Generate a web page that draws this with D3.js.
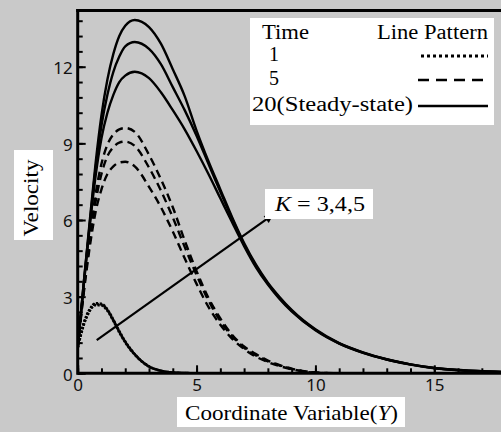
<!DOCTYPE html>
<html>
<head>
<meta charset="utf-8">
<script src="https://cdn.jsdelivr.net/npm/d3@7"></script>
<style>
  body { margin: 0; background: #c9c9c9; }
  svg { display: block; }
</style>
</head>
<body>
<div id="chart"></div>
<script>
// coordinate variable Y where the curves are read
var yGrid = [0, 0.25, 0.5, 0.75, 1, 1.25, 1.5, 1.75, 2, 2.4, 3, 3.5, 4, 4.5, 5, 5.5, 6, 6.5, 7, 7.5, 8, 8.5, 9, 10, 11, 12, 13, 14, 15, 16, 17, 18, 20];

// time = 20 (steady-state), K = 3,4,5
var steadyK3 = [1, 3.4, 5.7, 7.7, 9.2, 10.2, 10.9, 11.4, 11.65, 11.8, 11.55, 11.0, 10.3, 9.55, 8.7, 7.8, 6.85, 5.9, 4.98, 4.15, 3.47, 2.9, 2.42, 1.68, 1.16, 0.8, 0.54, 0.34, 0.2, 0.12, 0.08, 0.05, 0.02];
var steadyK4 = [1, 3.5, 5.8, 8.0, 9.7, 10.9, 11.8, 12.4, 12.8, 12.97, 12.7, 12.1, 11.2, 10.3, 9.3, 8.2, 7.1, 6.05, 5.04, 4.2, 3.51, 2.94, 2.45, 1.7, 1.17, 0.81, 0.54, 0.35, 0.21, 0.13, 0.08, 0.05, 0.02];
var steadyK5 = [1, 3.5, 5.9, 8.2, 10.1, 11.5, 12.5, 13.2, 13.6, 13.83, 13.55, 12.9, 11.9, 10.85, 9.5, 8.3, 7.2, 6.1, 5.1, 4.25, 3.55, 2.98, 2.48, 1.72, 1.18, 0.82, 0.55, 0.35, 0.21, 0.13, 0.08, 0.05, 0.02];

// time = 5
var t5K3 = [1, 3.1, 4.9, 6.3, 7.2, 7.8, 8.1, 8.25, 8.28, 8.1, 7.3, 6.5, 5.55, 4.5, 3.5, 2.6, 1.9, 1.35, 0.95, 0.65, 0.44, 0.28, 0.16, 0.02, 0, 0, 0, 0, 0, 0, 0, 0, 0];
var t5K4 = [1, 3.2, 5.1, 6.7, 7.8, 8.5, 8.85, 9.03, 9.07, 8.9, 8.05, 7.15, 6.1, 4.95, 3.85, 2.85, 2.05, 1.45, 1.0, 0.7, 0.47, 0.3, 0.17, 0.03, 0, 0, 0, 0, 0, 0, 0, 0, 0];
var t5K5 = [1, 3.3, 5.3, 7.0, 8.2, 8.95, 9.35, 9.55, 9.6, 9.45, 8.55, 7.6, 6.5, 5.2, 4.0, 2.95, 2.15, 1.5, 1.05, 0.75, 0.5, 0.32, 0.18, 0.03, 0, 0, 0, 0, 0, 0, 0, 0, 0];

// time = 1
var t1K3 = [1, 1.88, 2.43, 2.67, 2.66, 2.45, 2.05, 1.6, 1.21, 0.73, 0.26, 0.1, 0.03, 0.01, 0, 0, 0, 0, 0, 0, 0, 0, 0, 0, 0, 0, 0, 0, 0, 0, 0, 0, 0];
var t1K4 = [1, 1.92, 2.47, 2.71, 2.69, 2.48, 2.08, 1.63, 1.23, 0.74, 0.27, 0.1, 0.03, 0.01, 0, 0, 0, 0, 0, 0, 0, 0, 0, 0, 0, 0, 0, 0, 0, 0, 0, 0, 0];
var t1K5 = [1, 1.95, 2.5, 2.74, 2.72, 2.5, 2.1, 1.65, 1.25, 0.75, 0.27, 0.1, 0.03, 0.01, 0, 0, 0, 0, 0, 0, 0, 0, 0, 0, 0, 0, 0, 0, 0, 0, 0, 0, 0];

var xMajor = [0, 5, 10, 15];
var yMajor = [0, 3, 6, 9, 12];

var series = [
    { time: 1, pattern: "dot", values: t1K3 },
    { time: 1, pattern: "dot", values: t1K4 },
    { time: 1, pattern: "dot", values: t1K5 },
    { time: 5, pattern: "dash", values: t5K3 },
    { time: 5, pattern: "dash", values: t5K4 },
    { time: 5, pattern: "dash", values: t5K5 },
    { time: 20, pattern: "solid", values: steadyK3 },
    { time: 20, pattern: "solid", values: steadyK4 },
    { time: 20, pattern: "solid", values: steadyK5 }
];

var legendRows = [
    { label: "1", pattern: "dot" },
    { label: "5", pattern: "dash" },
    { label: "20(Steady-state)", pattern: "solid" }
];

var dashFor = { dot: "2.2,1.6", dash: "8,5", solid: null };

var width = 501, height = 432;
var svg = d3.select("#chart").append("svg")
    .attr("width", width)
    .attr("height", height);

svg.append("rect")
    .attr("width", width)
    .attr("height", height)
    .style("fill", "#c9c9c9");

var x = d3.scaleLinear().domain([0, 18]).range([77.7, 505.6]);
var y = d3.scaleLinear().domain([0, 14.2]).range([373.3, 10.5]);

svg.append("clipPath").attr("id", "plotClip")
    .append("rect")
    .attr("x", x(0)).attr("y", y(14.2))
    .attr("width", x(18) - x(0)).attr("height", y(0) - y(14.2));

// curves
var line = d3.line()
    .x(function (d) { return x(d[0]); })
    .y(function (d) { return y(d[1]); })
    .curve(d3.curveMonotoneX);

svg.append("g").attr("clip-path", "url(#plotClip)")
    .selectAll(".curve")
    .data(series)
    .enter().append("path")
    .attr("class", "curve")
    .attr("d", function (s) {
        return line(yGrid.map(function (g, i) { return [g, s.values[i]]; }));
    })
    .style("fill", "none")
    .style("stroke", "#000")
    .style("stroke-width", function (s) { return s.pattern == "dot" ? 2.6 : 2.4; })
    .style("stroke-dasharray", function (s) { return dashFor[s.pattern]; });

// axes, ticks pointing inward
var tickFont = "'Noto Sans', sans-serif";

var yAxis = svg.append("g")
    .attr("transform", "translate(" + x(0) + ",0)")
    .call(d3.axisLeft(y).tickValues(yMajor).tickSize(-8).tickPadding(5).tickFormat(d3.format("d")));
var yMinor = svg.append("g")
    .attr("transform", "translate(" + x(0) + ",0)")
    .call(d3.axisLeft(y).tickValues(d3.range(0, 14.2, 0.6)).tickSize(-5).tickFormat(""));

var xAxis = svg.append("g")
    .attr("transform", "translate(0," + y(0) + ")")
    .call(d3.axisBottom(x).tickValues(xMajor).tickSize(-8).tickPadding(6).tickFormat(d3.format("d")));
var xMinor = svg.append("g")
    .attr("transform", "translate(0," + y(0) + ")")
    .call(d3.axisBottom(x).tickValues(d3.range(0, 18, 1)).tickSize(-5).tickFormat(""));

[yAxis, yMinor, xAxis, xMinor].forEach(function (a) {
    a.select(".domain").remove();
    a.selectAll(".tick line").style("stroke", "#000").style("stroke-width", 2);
    a.selectAll("text")
        .style("font-family", tickFont)
        .style("font-size", "17px")
        .style("fill", "#111");
});
yAxis.selectAll("text").attr("dy", "0.4em");

// frame lines: left, bottom and top
svg.append("line")
    .attr("x1", x(0)).attr("x2", x(0))
    .attr("y1", y(14.2) - 1.5).attr("y2", y(0) + 1.5)
    .style("stroke", "#000").style("stroke-width", 3);
svg.append("line")
    .attr("x1", x(0)).attr("x2", width)
    .attr("y1", y(0)).attr("y2", y(0))
    .style("stroke", "#000").style("stroke-width", 3);
svg.append("line")
    .attr("x1", x(0) - 1.5).attr("x2", width)
    .attr("y1", y(14.2)).attr("y2", y(14.2))
    .style("stroke", "#000").style("stroke-width", 3);

// arrow across the K families
svg.append("defs").append("marker")
    .attr("id", "arrowHead")
    .attr("viewBox", "0 0 10 10")
    .attr("refX", 9).attr("refY", 5)
    .attr("markerWidth", 5).attr("markerHeight", 4)
    .attr("markerUnits", "strokeWidth")
    .attr("orient", "auto")
    .append("path")
    .attr("d", "M0,0 L10,5 L0,10 Z")
    .style("fill", "#000");

svg.append("line")
    .attr("x1", x(0.8)).attr("y1", y(1.3))
    .attr("x2", x(8.2)).attr("y2", y(6.2))
    .style("stroke", "#000")
    .style("stroke-width", 2.2)
    .attr("marker-end", "url(#arrowHead)");

var serif = "'Liberation Serif', 'Times New Roman', serif";

// K label
svg.append("rect")
    .attr("x", 265).attr("y", 189).attr("width", 108).attr("height", 30)
    .style("fill", "#fff");
var kText = svg.append("text")
    .attr("x", 275).attr("y", 211)
    .style("font-family", serif)
    .style("font-size", "21px")
    .attr("textLength", 90)
    .attr("lengthAdjust", "spacingAndGlyphs");
kText.append("tspan").style("font-style", "italic").text("K");
kText.append("tspan").text(" = 3,4,5");

// axis titles in white boxes
svg.append("rect")
    .attr("x", 177).attr("y", 397).attr("width", 228).attr("height", 30)
    .style("fill", "#fff");
var xTitle = svg.append("text")
    .attr("x", 185).attr("y", 420)
    .style("font-family", serif)
    .style("font-size", "21px")
    .attr("textLength", 213)
    .attr("lengthAdjust", "spacingAndGlyphs");
xTitle.append("tspan").text("Coordinate Variable(");
xTitle.append("tspan").style("font-style", "italic").text("Y");
xTitle.append("tspan").text(")");

svg.append("rect")
    .attr("x", 14).attr("y", 150).attr("width", 39).attr("height", 90)
    .style("fill", "#fff");
svg.append("text")
    .attr("transform", "translate(38,198) rotate(-90)")
    .attr("text-anchor", "middle")
    .style("font-family", serif)
    .style("font-size", "21px")
    .attr("textLength", 77)
    .attr("lengthAdjust", "spacingAndGlyphs")
    .text("Velocity");

// legend
var legend = svg.append("g").attr("class", "legend");
legend.append("rect")
    .attr("x", 250).attr("y", 18).attr("width", 244).attr("height", 107)
    .style("fill", "#fff");
legend.append("text")
    .attr("x", 262).attr("y", 39)
    .style("font-family", serif).style("font-size", "20px")
    .attr("textLength", 47).attr("lengthAdjust", "spacingAndGlyphs")
    .text("Time");
legend.append("text")
    .attr("x", 377).attr("y", 39)
    .style("font-family", serif).style("font-size", "20px")
    .attr("textLength", 111).attr("lengthAdjust", "spacingAndGlyphs")
    .text("Line Pattern");

var rowY = [61, 85, 111];
var row = legend.selectAll(".legendRow")
    .data(legendRows)
    .enter().append("g")
    .attr("class", "legendRow")
    .attr("transform", function (d, i) { return "translate(0," + rowY[i] + ")"; });

row.append("text")
    .attr("x", function (d) { return d.label.length > 2 ? 252 : 269; })
    .style("font-family", serif).style("font-size", "20px")
    .attr("textLength", function (d) { return d.label.length > 2 ? 161 : null; })
    .attr("lengthAdjust", "spacingAndGlyphs")
    .text(function (d) { return d.label; });

row.append("line")
    .attr("x1", function (d) { return d.pattern == "dot" ? 421 : 418; })
    .attr("x2", 488)
    .attr("y1", -5).attr("y2", -5)
    .style("stroke", "#000")
    .style("stroke-width", function (d) { return d.pattern == "dot" ? 3 : 2.4; })
    .style("stroke-dasharray", function (d) {
        return d.pattern == "dot" ? "3,3" : d.pattern == "dash" ? "11,7" : null;
    });
</script>
</body>
</html>
